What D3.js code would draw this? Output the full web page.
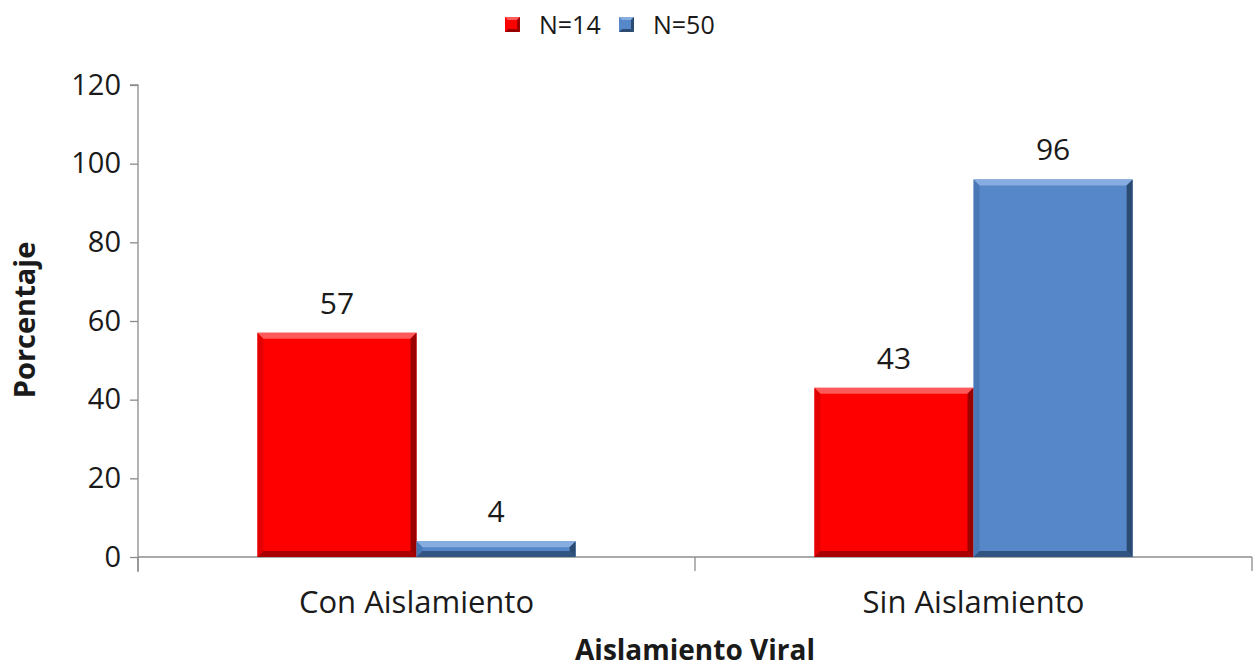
<!DOCTYPE html>
<html><head><meta charset="utf-8">
<script src="https://cdn.jsdelivr.net/npm/d3@7"></script>
<style>body{margin:0;background:#fff}svg{display:block}text{font-family:"Open Sans",sans-serif}</style>
</head><body><svg id="c" width="1254" height="671"></svg>
<script>
const categories = ["Con Aislamiento", "Sin Aislamiento"];
const seriesNames = ["N=14", "N=50"];
const n14 = [57, 43];
const n50 = [4, 96];
const yTicks = [0, 20, 40, 60, 80, 100, 120];

const colors = {
  "N=14": {main:"#ff0000", light:"#ff5a5a", dark:"#9a0000", side:"#c80000"},
  "N=50": {main:"#5687c9", light:"#86ace0", dark:"#2b4b73", side:"#3e6aa3"}
};

const svg = d3.select("#c");
const L = 138, R = 1252, T = 85, B = 557;
const x0 = d3.scaleBand().domain(categories).range([L, R]).paddingInner(0).paddingOuter(0);
const x1 = d3.scaleBand().domain(seriesNames).range([0, x0.bandwidth()]).paddingInner(0).paddingOuter(0.75);
const y = d3.scaleLinear().domain([0, 120]).range([B, T]);

// y axis
const ya = svg.append("g").attr("transform", `translate(${L},0)`)
  .call(d3.axisLeft(y).tickValues(yTicks).tickSize(8).tickPadding(9));
ya.select(".domain").attr("stroke", "#8c8c8c").attr("stroke-width", 1.3).attr("d", `M-8,${T}H0V${B+15}`);
ya.selectAll(".tick line").attr("stroke", "#8c8c8c").attr("stroke-width", 1.3);
ya.selectAll(".tick text").attr("font-size", 29).attr("fill", "#1a1a1a");

// x axis
const xa = svg.append("g").attr("transform", `translate(0,${B})`)
  .call(d3.axisBottom(x0).tickSize(0).tickPadding(34));
xa.select(".domain").remove();
xa.selectAll(".tick text").attr("font-size", 31).attr("fill", "#1a1a1a");
svg.append("line").attr("x1", L).attr("x2", R).attr("y1", B).attr("y2", B).attr("stroke", "#8c8c8c").attr("stroke-width", 1.3);
const bounds = categories.map(c => x0(c)).concat([R]);
svg.selectAll(".ctick").data(bounds).enter().append("line")
  .attr("x1", d => d).attr("x2", d => d).attr("y1", B).attr("y2", B + 14)
  .attr("stroke", "#8c8c8c").attr("stroke-width", 1.3);

// bars
const data = [];
categories.forEach((c, i) => {
  data.push({cat: c, s: "N=14", v: n14[i]});
  data.push({cat: c, s: "N=50", v: n50[i]});
});
const bw = 6;
data.forEach(d => {
  const xL = x0(d.cat) + x1(d.s), w = x1.bandwidth();
  const xR = xL + w, yT = y(d.v), yB = y(0);
  const h = yB - yT;
  const b = Math.min(bw, h / 2, w / 2);
  const col = colors[d.s];
  const g = svg.append("g");
  g.append("rect").attr("x", xL).attr("y", yT).attr("width", w).attr("height", h).attr("fill", col.main);
  g.append("polygon").attr("points", [[xL,yT],[xR,yT],[xR-b,yT+b],[xL+b,yT+b]].join(" ")).attr("fill", col.light);
  g.append("polygon").attr("points", [[xL,yT],[xL+b,yT+b],[xL+b,yB-b],[xL,yB]].join(" ")).attr("fill", col.side).attr("opacity", 0.5);
  g.append("polygon").attr("points", [[xR,yT],[xR,yB],[xR-b,yB-b],[xR-b,yT+b]].join(" ")).attr("fill", col.dark);
  g.append("polygon").attr("points", [[xL,yB],[xR,yB],[xR-b,yB-b],[xL+b,yB-b]].join(" ")).attr("fill", col.dark).attr("opacity", 0.85);
  svg.append("text").attr("x", xL + w / 2).attr("y", yT - 19).attr("text-anchor", "middle")
    .attr("font-size", 30).attr("fill", "#1a1a1a").text(d.v);
});

// axis titles
svg.append("text").attr("transform", `translate(35,${(T+B)/2 - 1}) rotate(-90)`).attr("text-anchor", "middle")
  .attr("font-size", 29).attr("font-weight", "bold").attr("fill", "#1a1a1a").text("Porcentaje");
svg.append("text").attr("x", (L + R) / 2).attr("y", 660).attr("text-anchor", "middle")
  .attr("font-size", 28).attr("font-weight", "bold").attr("fill", "#1a1a1a").text("Aislamiento Viral");

// legend
const legX = [505, 619];
seriesNames.forEach((s, i) => {
  const col = colors[s];
  const g = svg.append("g").attr("transform", `translate(${legX[i]},17)`);
  g.append("rect").attr("width", 15).attr("height", 15).attr("fill", col.main);
  g.append("polygon").attr("points", "0,0 15,0 12,3 3,3").attr("fill", col.light);
  g.append("polygon").attr("points", "15,0 15,15 12,12 12,3").attr("fill", col.dark);
  g.append("polygon").attr("points", "0,15 15,15 12,12 3,12").attr("fill", col.dark);
  g.append("text").attr("x", 34).attr("y", 17).attr("font-size", 25).attr("fill", "#1a1a1a").text(s);
});
</script></body></html>
